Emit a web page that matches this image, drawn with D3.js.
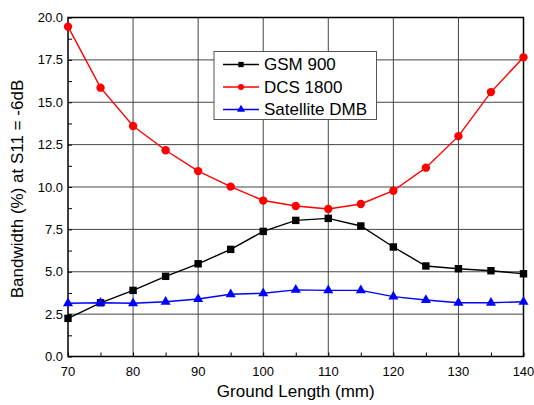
<!DOCTYPE html>
<html>
<head>
<meta charset="utf-8">
<script src="https://cdn.jsdelivr.net/npm/d3@7"></script>
<style>
  body { margin: 0; background: #fff; }
  text { font-family: "Liberation Sans", Arial, sans-serif; fill: #000; }
</style>
</head>
<body>
<div id="chart-area"></div>
<script>
// Datos
const groundLength = [70, 75, 80, 85, 90, 95, 100, 105, 110, 115, 120, 125, 130, 135, 140];
const gsm900 = [2.25, 3.17, 3.9, 4.73, 5.47, 6.32, 7.38, 8.03, 8.15, 7.7, 6.46, 5.34, 5.18, 5.06, 4.88];
const dcs1800 = [19.46, 15.86, 13.6, 12.17, 10.94, 10.02, 9.2, 8.88, 8.7, 9.0, 9.78, 11.14, 13.0, 15.6, 17.65];
const satDmb = [3.14, 3.17, 3.14, 3.23, 3.39, 3.67, 3.73, 3.93, 3.9, 3.9, 3.53, 3.33, 3.17, 3.17, 3.23];
const seriesNames = ["GSM 900", "DCS 1800", "Satellite DMB"];
const xTicks = [70, 80, 90, 100, 110, 120, 130, 140];
const yTicks = [0, 2.5, 5, 7.5, 10, 12.5, 15, 17.5, 20];

const series = [
    { name: seriesNames[0], values: gsm900, color: "#000000", shape: d3.symbolSquare, size: 55 },
    { name: seriesNames[1], values: dcs1800, color: "#ff0000", shape: d3.symbolCircle, size: 55 },
    { name: seriesNames[2], values: satDmb, color: "#0000ff", shape: d3.symbolTriangle, size: 44 }
];

const width = 534, height = 405;
const margin = { top: 17.5, right: 10.5, bottom: 48.5, left: 68 };
const innerW = width - margin.left - margin.right;
const innerH = height - margin.top - margin.bottom;

const svg = d3.select("#chart-area")
    .append("svg")
    .attr("width", width)
    .attr("height", height);

const g = svg.append("g")
    .attr("transform", `translate(${margin.left},${margin.top})`);

// Escalas
const x = d3.scaleLinear().domain([70, 140]).range([0, innerW]);
const y = d3.scaleLinear().domain([0, 20]).range([innerH, 0]);

// Rejilla
g.append("g")
    .selectAll("line")
    .data(xTicks.slice(1, -1))
    .enter()
    .append("line")
    .attr("x1", d => x(d)).attr("x2", d => x(d))
    .attr("y1", 0).attr("y2", innerH)
    .attr("stroke", "#444").attr("stroke-width", 1);

g.append("g")
    .selectAll("line")
    .data(yTicks.slice(1, -1))
    .enter()
    .append("line")
    .attr("x1", 0).attr("x2", innerW)
    .attr("y1", d => y(d)).attr("y2", d => y(d))
    .attr("stroke", "#444").attr("stroke-width", 1);

// Ejes (marcas hacia dentro)
const xAxis = g.append("g")
    .attr("transform", `translate(0,${innerH})`)
    .call(d3.axisBottom(x).tickValues(d3.range(70, 141, 5)).tickSize(-4).tickFormat(""));
xAxis.select(".domain").remove();
xAxis.selectAll(".tick line").attr("stroke", "#000");

g.append("g")
    .selectAll("text")
    .data(xTicks)
    .enter()
    .append("text")
    .attr("x", d => x(d))
    .attr("y", innerH + 19)
    .attr("text-anchor", "middle")
    .attr("font-size", 13)
    .text(d => d);

const yAxis = g.append("g")
    .call(d3.axisLeft(y).tickValues(d3.range(0, 20.01, 1.25)).tickSize(-4).tickFormat(""));
yAxis.select(".domain").remove();
yAxis.selectAll(".tick line").attr("stroke", "#000");

g.append("g")
    .selectAll("text")
    .data(yTicks)
    .enter()
    .append("text")
    .attr("x", -5)
    .attr("y", d => y(d))
    .attr("dy", "0.35em")
    .attr("text-anchor", "end")
    .attr("font-size", 13)
    .text(d => d3.format(".1f")(d));

// Marco
g.append("rect")
    .attr("width", innerW).attr("height", innerH)
    .attr("fill", "none").attr("stroke", "#000").attr("stroke-width", 1.5);

// Títulos
svg.append("text")
    .attr("x", margin.left + innerW / 2)
    .attr("y", 397)
    .attr("text-anchor", "middle")
    .attr("font-size", 17)
    .text("Ground Length (mm)");

svg.append("text")
    .attr("transform", "translate(23,189) rotate(-90)")
    .attr("text-anchor", "middle")
    .attr("font-size", 17)
    .text("Bandwidth (%) at S11 = -6dB");

// Series
const line = d3.line()
    .x((d, i) => x(groundLength[i]))
    .y(d => y(d));

series.forEach(s => {
    g.append("path")
        .datum(s.values)
        .attr("fill", "none")
        .attr("stroke", s.color)
        .attr("stroke-width", 1.4)
        .attr("d", line);

    g.selectAll(null)
        .data(s.values)
        .enter()
        .append("path")
        .attr("transform", (d, i) => `translate(${x(groundLength[i])},${y(d)})`)
        .attr("d", d3.symbol().type(s.shape).size(s.size))
        .attr("fill", s.color);
});

// Leyenda
const legend = svg.append("g").attr("transform", "translate(214,51.5)");
legend.append("rect")
    .attr("width", 162.5).attr("height", 68)
    .attr("fill", "#fff").attr("stroke", "#555").attr("stroke-width", 1);

series.forEach((s, i) => {
    const ly = 13 + i * 22.5;
    legend.append("line")
        .attr("x1", 9).attr("x2", 45)
        .attr("y1", ly).attr("y2", ly)
        .attr("stroke", s.color).attr("stroke-width", 1.4);
    legend.append("path")
        .attr("transform", `translate(27,${ly})`)
        .attr("d", d3.symbol().type(s.shape).size(28))
        .attr("fill", s.color);
    legend.append("text")
        .attr("x", 50)
        .attr("y", ly)
        .attr("dy", "0.35em")
        .attr("font-size", 17)
        .text(s.name);
});
</script>
</body>
</html>
